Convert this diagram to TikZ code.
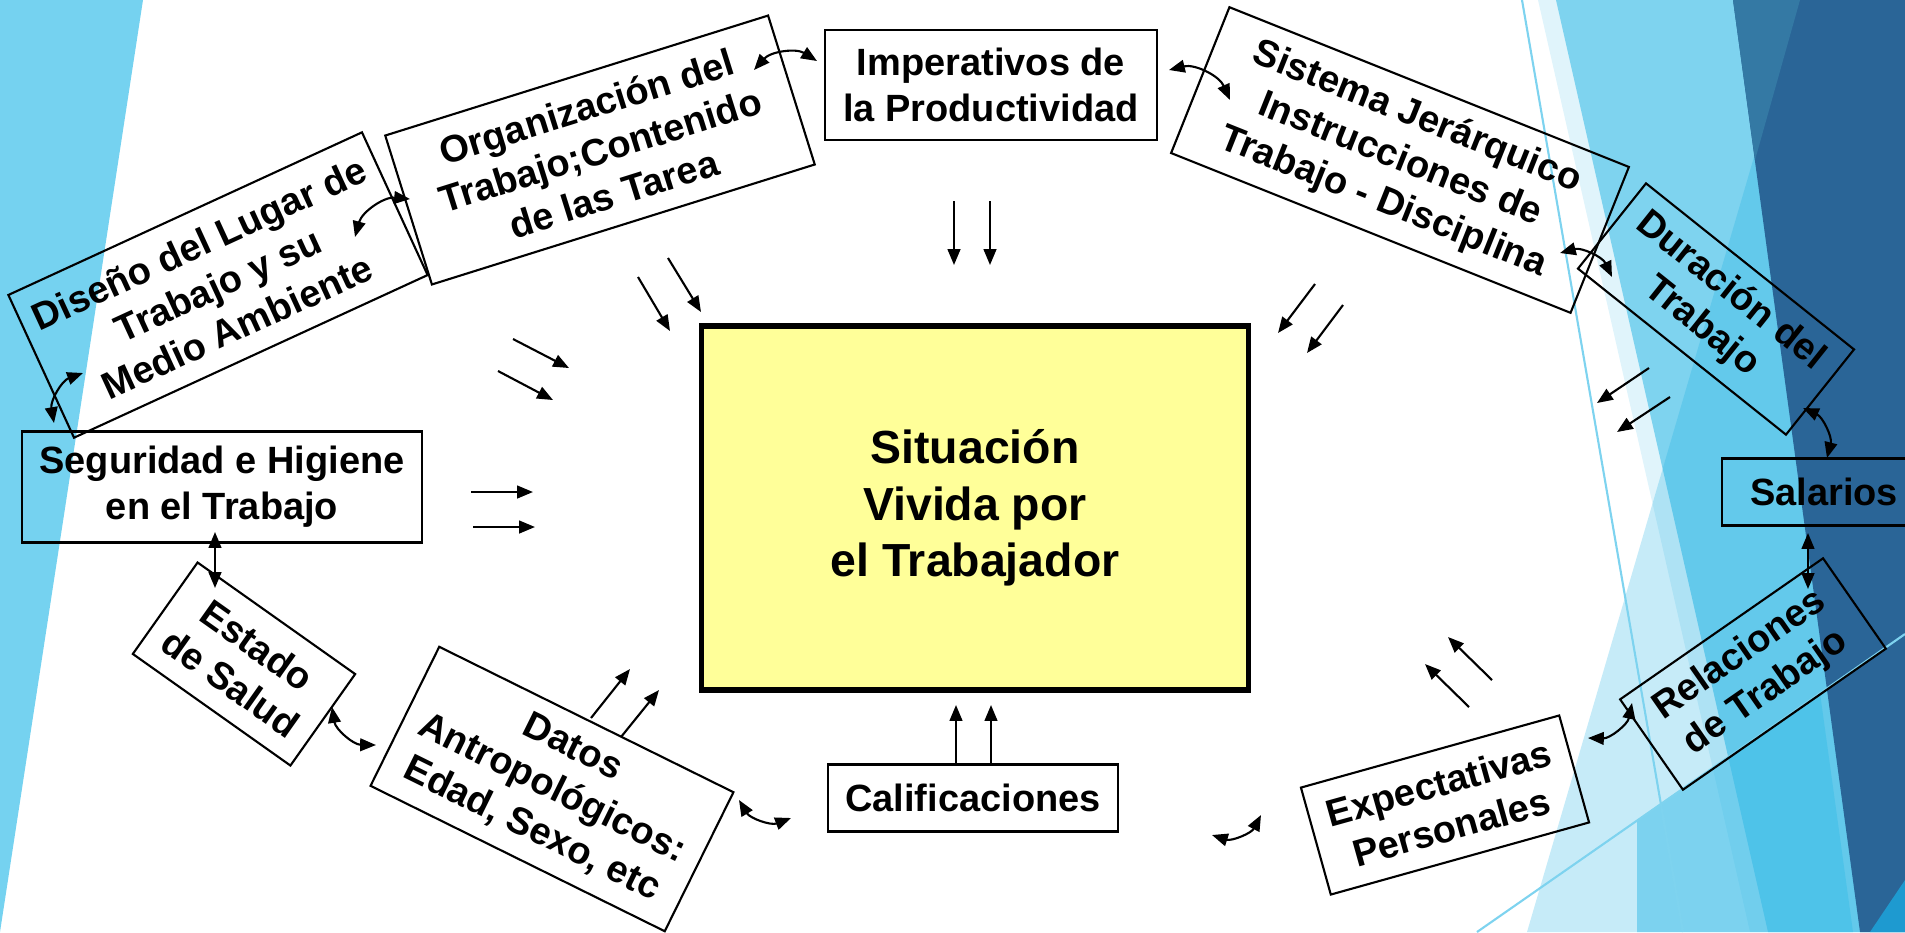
\documentclass[tikz,border=0pt]{standalone}
\usepackage{fontspec}
\setmainfont{Liberation Sans}
\usetikzlibrary{arrows.meta}

\definecolor{leftblue}{RGB}{117,210,240}
\definecolor{lightblue}{RGB}{126,211,239}
\definecolor{paleblue}{RGB}{224,244,251}
\definecolor{veilblue}{RGB}{10,169,225}
\definecolor{glowblue}{RGB}{62,190,232}
\definecolor{darkblue}{RGB}{42,101,151}
\definecolor{wedgeblue}{RGB}{52,121,164}
\definecolor{cornerblue}{RGB}{30,154,208}
\definecolor{boxyellow}{RGB}{255,255,153}

\begin{document}
\begin{tikzpicture}[x=0.01cm, y=-0.01cm, line width=0.6pt,
    box/.style={draw, align=center, inner sep=0pt,
      font=\bfseries\fontsize{10.8}{13}\selectfont},
    flow/.style={-{Triangle[length=4.5pt, width=3.6pt]}},
    link/.style={{Triangle[length=4.5pt, width=3.6pt]}-{Triangle[length=4.5pt, width=3.6pt]}}]

    \useasboundingbox (0,0) rectangle (1905,932);

    % left facet
    \fill[leftblue] (0,0) -- (143,0) -- (0,932) -- cycle;

    % right facets
    \fill[paleblue] (1538,0) -- (1905,0) -- (1905,932) -- (1750,932) -- cycle;
    \fill[lightblue] (1556,0) -- (1905,0) -- (1905,932) -- (1768,932) -- cycle;
    \fill[veilblue, opacity=0.23] (1800,0) -- (1905,0) -- (1905,932) -- (1527,932) -- cycle;
    \fill[darkblue] (1733,0) -- (1905,0) -- (1905,932) -- (1860,932) -- cycle;
    \fill[wedgeblue] (1733,0) -- (1800,0) -- (1755,160) -- cycle;
    \fill[glowblue, opacity=0.54] (1637,932) -- (1637,821) -- (1820,693) -- (1853,932) -- cycle;
    \fill[cornerblue] (1870,932) -- (1905,880) -- (1905,932) -- cycle;
    \draw[lightblue] (1522,0) -- (1683,932);
    \draw[lightblue] (1477,932) -- (1905,634);

    % central box
    \node[draw, line width=1.5pt, fill=boxyellow, minimum width=5.46cm, minimum height=3.64cm,
      align=center, font=\bfseries\fontsize{13.2}{16}\selectfont] (sit) at (975,508)
      {Situación\\Vivida por\\el Trabajador};

    % boxes round the ring
    \node[box, minimum width=3.31cm, minimum height=1.10cm] (imp) at (991,85)
      {Imperativos de\\la Productividad};
    \node[box, rotate=17.4, minimum width=4.01cm, minimum height=1.56cm] (org) at (600,150)
      {Organización del\\Trabajo;Contenido\\de las Tarea};
    \node[box, rotate=24.7, minimum width=3.89cm, minimum height=1.57cm] (dis) at (218,285)
      {Diseño del Lugar de\\Trabajo y su\\Medio Ambiente};
    \node[box, minimum width=3.99cm, minimum height=1.11cm] (seg) at (222,487)
      {Seguridad e Higiene\\en el Trabajo};
    \node[box, rotate=-35.3, minimum width=1.93cm, minimum height=1.12cm] (est) at (244,664)
      {Estado\\de Salud};
    \node[box, rotate=-26.3, minimum width=3.28cm, minimum height=1.55cm] (dat) at (552,789)
      {Datos\\Antropológicos:\\Edad, Sexo, etc};
    \node[box, minimum width=2.89cm, minimum height=0.67cm] (cal) at (973,798)
      {Calificaciones};
    \node[box, rotate=15.6, minimum width=2.68cm, minimum height=1.11cm] (exp) at (1445,805)
      {Expectativas\\Personales};
    \node[box, rotate=34.8, minimum width=2.47cm, minimum height=1.10cm] (rel) at (1753,674)
      {Relaciones\\de Trabajo};
    \node[box, minimum width=2.04cm, minimum height=0.67cm] (sal) at (1824,492)
      {Salarios};
    \node[box, rotate=-38.6, minimum width=2.66cm, minimum height=1.09cm] (dur) at (1716,309)
      {Duración del\\Trabajo};
    \node[box, rotate=-21.8, minimum width=4.30cm, minimum height=1.57cm] (sis) at (1400,160)
      {Sistema Jerárquico\\Instrucciones de\\Trabajo - Disciplina};

    % pairs of arrows towards the centre
    \foreach \n/\ax/\ay/\bx/\by in {
        ta/954/201/954/265, tb/990/201/990/265,
        ua/638/277/670/331, ub/668/258/701/312,
        va/513/339/569/368, vb/498/371/553/400,
        wa/471/492/533/492, wb/473/527/535/527,
        xa/591/718/630/669, xb/621/737/659/690,
        ya/956/765/956/705, yb/991/765/991/705,
        za/1492/680/1448/637, zb/1469/707/1425/664,
        ra/1649/368/1597/403, rb/1670/397/1617/432,
        sa/1315/284/1278/333, sb/1343/305/1307/353}{
      \coordinate (\n0) at (\ax,\ay);
      \coordinate (\n1) at (\bx,\by);
      \draw[flow] (\n0) -- (\n1);
    }

    % links between neighbours
    \foreach \n/\ax/\ay/\bx/\by in {
        la/754/70/817/61, lb/1169/70/1230/100, lc/1560/253/1612/277,
        ld/1803/408/1827/458, le/1632/703/1588/738, lf/1261/815/1212/835,
        lg/791/818/739/800, lh/376/745/332/707, li/54/423/83/373,
        lj/355/237/410/199}{
      \coordinate (\n0) at (\ax,\ay);
      \coordinate (\n1) at (\bx,\by);
      \draw[link] (\n0) to[bend left=40] (\n1);
    }
    \coordinate (sr0) at (1808,533);
    \coordinate (sr1) at (1808,589);
    \draw[link] (sr0) -- (sr1);
    \coordinate (es0) at (215,532);
    \coordinate (es1) at (215,588);
    \draw[link] (es0) -- (es1);
\end{tikzpicture}
\end{document}
